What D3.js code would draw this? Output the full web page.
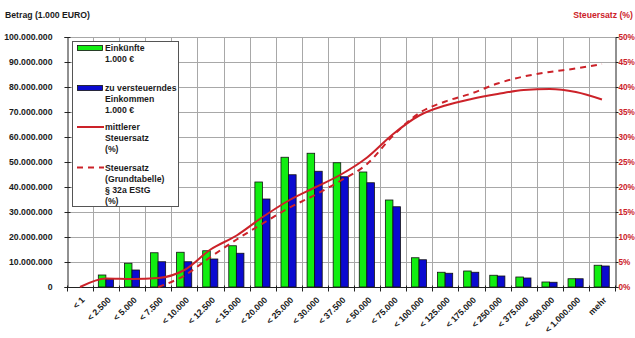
<!DOCTYPE html>
<html>
<head>
<meta charset="utf-8">
<script src="https://cdn.jsdelivr.net/npm/d3@7"></script>
<style>
  html, body { margin: 0; padding: 0; background: #fff; }
  svg text { font-family: "Liberation Sans", Arial, sans-serif; font-weight: bold; }
</style>
</head>
<body>
<svg id="chart" width="635" height="338"></svg>
<script>
// Income classes (1.000 €)
const categories = ["< 1", "< 2.500", "< 5.000", "< 7.500", "< 10.000", "< 12.500", "< 15.000",
  "< 20.000", "< 25.000", "< 30.000", "< 37.500", "< 50.000", "< 75.000", "< 100.000",
  "< 125.000", "< 175.000", "< 250.000", "< 375.000", "< 500.000", "< 1.000.000", "mehr"];

// Einkünfte, sum per class (1.000 €)
const einkuenfte = [0, 4800000, 9500000, 13700000, 13900000, 14500000, 16500000,
  42000000, 51900000, 53500000, 49700000, 46000000, 34800000, 11700000,
  5900000, 6400000, 4700000, 4000000, 2000000, 3300000, 8700000];

// zu versteuerndes Einkommen, sum per class (1.000 €)
const zvE = [0, 3100000, 6800000, 10100000, 10100000, 11200000, 13500000,
  35200000, 44900000, 46300000, 44100000, 41700000, 32100000, 10900000,
  5500000, 5900000, 4400000, 3600000, 1900000, 3300000, 8400000];

// mittlerer Steuersatz (%)
const mittlererSatz = [0, 1.7, 1.6, 1.8, 3.4, 7.5, 10.3, 14.0, 17.3, 19.9, 22.5, 25.9,
  30.6, 34.3, 36.3, 37.6, 38.6, 39.4, 39.6, 39.0, 37.5];

// Steuersatz laut Grundtabelle § 32a EStG (%)
const grundtabelle = [null, null, null, 0, 2.3, 6.0, 9.5, 12.7, 15.8, 18.4, 21.3, 24.6,
  30.3, 34.8, 37.1, 38.7, 40.7, 42.1, 43.0, 43.7, 44.6];

const leftTicks = [0, 10000000, 20000000, 30000000, 40000000, 50000000, 60000000, 70000000, 80000000, 90000000, 100000000];
const rightTicks = [0, 5, 10, 15, 20, 25, 30, 35, 40, 45, 50];

const green = "#11ee11", blue = "#0a0ad0", red = "#cc2229", grid = "#a8a8a8";
const fontSize = "8.7px";

const svg = d3.select("#chart");
const m = { left: 67, right: 615, top: 37, bottom: 287 };

const x = d3.scaleBand().domain(categories).range([m.left, m.right]).padding(0);
const xs = d3.scaleBand().domain(["ek", "zve"]).range([x.bandwidth() * 0.2, x.bandwidth() * 0.78]).padding(0);
const yL = d3.scaleLinear().domain([0, 100000000]).range([m.bottom, m.top]);
const yR = d3.scaleLinear().domain([0, 50]).range([m.bottom, m.top]);

const fmt = v => d3.format(",")(v).replace(/,/g, ".");

// gridlines
const g = svg.append("g");
g.selectAll("line.h").data(leftTicks).join("line")
  .attr("x1", m.left).attr("x2", m.right)
  .attr("y1", d => Math.round(yL(d)) + 0.5).attr("y2", d => Math.round(yL(d)) + 0.5)
  .attr("stroke", grid).attr("stroke-width", 1);
const bounds = categories.map(c => x(c)).concat([m.right]);
g.selectAll("line.v").data(bounds.slice(1, -1)).join("line")
  .attr("x1", d => Math.round(d) + 0.5).attr("x2", d => Math.round(d) + 0.5)
  .attr("y1", m.top).attr("y2", m.bottom)
  .attr("stroke", grid).attr("stroke-width", 1);

// bars
const series = [{ key: "ek", vals: einkuenfte, fill: green }, { key: "zve", vals: zvE, fill: blue }];
series.forEach(s => {
  svg.append("g").selectAll("rect").data(categories.map((c, i) => ({ c, v: s.vals[i] })).filter(d => d.v > 0))
    .join("rect")
    .attr("x", d => x(d.c) + xs(s.key))
    .attr("y", d => yL(d.v))
    .attr("width", xs.bandwidth())
    .attr("height", d => yL(0) - yL(d.v))
    .attr("fill", s.fill)
    .attr("stroke", "#111").attr("stroke-width", 0.8);
});

// axes
const axL = svg.append("g").attr("transform", `translate(${m.left + 0.5},0)`)
  .call(d3.axisLeft(yL).tickValues(leftTicks).tickFormat(fmt).tickSize(3).tickPadding(12));
axL.select(".domain").attr("stroke", "#222");
axL.selectAll(".tick line").attr("stroke", "#222").attr("x2", 3).attr("x1", -3);
axL.selectAll("text").attr("font-size", fontSize).attr("fill", "#1a1a1a")
  .style("font-family", '"Liberation Sans", Arial, sans-serif').style("font-weight", "bold");

const axR = svg.append("g").attr("transform", `translate(${m.right + 0.5},0)`)
  .call(d3.axisRight(yR).tickValues(rightTicks).tickFormat(d => d + "%").tickSize(3).tickPadding(0));
axR.select(".domain").attr("stroke", "#222");
axR.selectAll(".tick line").attr("stroke", "#222");
axR.selectAll("text").attr("font-size", "8.2px").attr("fill", red)
  .style("font-family", '"Liberation Sans", Arial, sans-serif').style("font-weight", "bold");

const axB = svg.append("g").attr("transform", `translate(0,${m.bottom + 0.5})`);
axB.append("line").attr("x1", m.left).attr("x2", m.right).attr("stroke", "#222");
axB.selectAll("line.t").data(bounds).join("line")
  .attr("x1", d => Math.round(d) + 0.5).attr("x2", d => Math.round(d) + 0.5)
  .attr("y1", -2).attr("y2", 4).attr("stroke", "#222");
axB.selectAll("text").data(categories).join("text")
  .attr("transform", d => `translate(${x(d) + x.bandwidth() / 2 + 3},${11}) rotate(-45)`)
  .attr("text-anchor", "end").attr("dy", "0.35em")
  .attr("font-size", fontSize).attr("fill", "#1a1a1a")
  .text(d => d);

// tax-rate lines
const line = d3.line()
  .x(d => x(d.c) + x.bandwidth() / 2)
  .y(d => yR(d.v))
  .curve(d3.curveMonotoneX);
svg.append("path")
  .datum(categories.map((c, i) => ({ c, v: grundtabelle[i] })).filter(d => d.v !== null))
  .attr("d", line).attr("fill", "none").attr("stroke", red).attr("stroke-width", 2)
  .attr("stroke-dasharray", "6,5");
svg.append("path")
  .datum(categories.map((c, i) => ({ c, v: mittlererSatz[i] })))
  .attr("d", line).attr("fill", "none").attr("stroke", red).attr("stroke-width", 2);

// axis titles
svg.append("text").attr("x", 5).attr("y", 18).attr("font-size", fontSize).attr("fill", "#1a1a1a")
  .text("Betrag (1.000 EURO)");
svg.append("text").attr("x", 633).attr("y", 18).attr("text-anchor", "end")
  .attr("font-size", fontSize).attr("fill", red).text("Steuersatz (%)");

// legend
const lg = svg.append("g");
lg.append("rect").attr("x", 72.5).attr("y", 41.5).attr("width", 106).attr("height", 165)
  .attr("fill", "#fff").attr("stroke", "#555").attr("stroke-width", 1);
const legend = [
  { type: "rect", fill: green, y: 48, lines: ["Einkünfte", "1.000 €"] },
  { type: "rect", fill: blue, y: 88, lines: ["zu versteuerndes", "Einkommen", "1.000 €"] },
  { type: "line", dash: null, y: 127, lines: ["mittlerer", "Steuersatz", "(%)"] },
  { type: "line", dash: "6,5", y: 167.5, lines: ["Steuersatz", "(Grundtabelle)", "§ 32a EStG", "(%)"] }
];
legend.forEach(e => {
  if (e.type === "rect") {
    lg.append("rect").attr("x", 77.5).attr("y", e.y - 2.5).attr("width", 25).attr("height", 5)
      .attr("fill", e.fill).attr("stroke", "#111").attr("stroke-width", 0.8);
  } else {
    lg.append("line").attr("x1", 77).attr("x2", 104).attr("y1", e.y).attr("y2", e.y)
      .attr("stroke", red).attr("stroke-width", 2).attr("stroke-dasharray", e.dash);
  }
  e.lines.forEach((t, k) => {
    lg.append("text").attr("x", 105).attr("y", e.y + k * 11).attr("dy", "0.35em")
      .attr("font-size", fontSize).attr("fill", "#1a1a1a").text(t);
  });
});
</script>
</body>
</html>
